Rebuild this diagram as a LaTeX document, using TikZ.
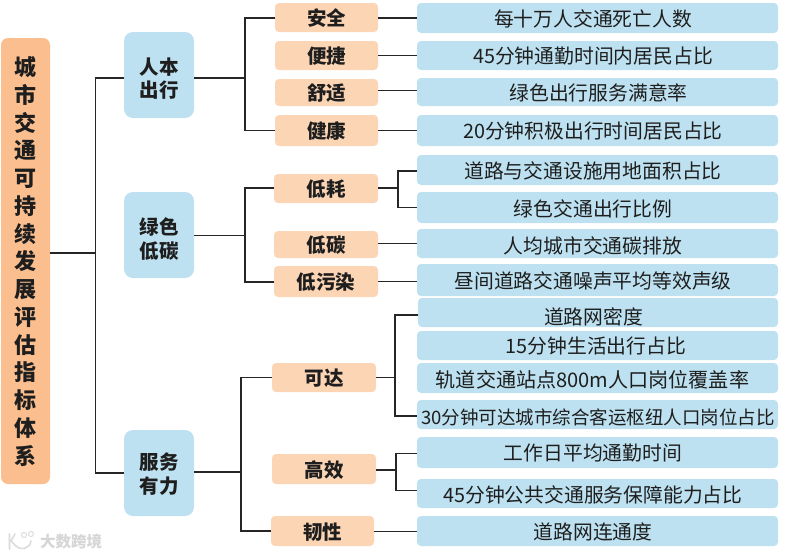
\documentclass[tikz,border=0pt]{standalone}
\usepackage{fontspec}
\setmainfont{Noto Sans CJK SC}
\definecolor{blueb}{HTML}{BDE1F0}
\definecolor{orangeb}{HTML}{FCD5B5}
\definecolor{rootb}{HTML}{FBBF8F}
\definecolor{txt}{HTML}{1E1E1E}
\tikzset{
  x=1pt,y=-1pt,
  box/.style={inner sep=0pt,outer sep=0pt,text=txt},
  l3box/.style={box,fill=blueb,rounded corners=4pt,font=\fontsize{19.8}{22}\selectfont},
  l3small/.style={l3box,font=\fontsize{18.5}{22}\selectfont},
  l3big/.style={l3box,font=\fontsize{20.1}{22}\selectfont},
  l2box/.style={box,fill=orangeb,rounded corners=4pt,font=\bfseries\fontsize{19.5}{22}\selectfont},
  l1box/.style={box,fill=blueb,rounded corners=9pt,align=center,font=\bfseries\fontsize{19.5}{23.5}\selectfont},
  rootbox/.style={box,fill=rootb,rounded corners=7pt,align=center,font=\bfseries\fontsize{22}{27.75}\selectfont},
  link/.style={draw=black!85,line width=1.2pt},
  wmark/.style={draw=black!14,line width=1.6pt,line cap=round},
}
\def\tdy{0}
\def\tdx{0}
\newcommand{\rbox}[7]{% name style x1 y1 x2 y2 text
  \node[#2,minimum width=#5pt-#3pt,minimum height=#6pt-#4pt] (#1) at ({(#3+#5)/2},{(#4+#6)/2}) {};
  \node[#2,fill=none] (#1t) at ([xshift=\tdx pt,yshift=-\tdy pt]#1.center) {#7};}
\begin{document}
\begin{tikzpicture}
\useasboundingbox (0,0) rectangle (787,557);
\def\tdy{0.5}
\rbox{root}{rootbox}{1}{38}{50}{484}{城\\市\\交\\通\\可\\持\\续\\发\\展\\评\\估\\指\\标\\体\\系}
\def\tdy{3.5}
\rbox{a}{l1box}{124}{32}{194}{118}{人本\\出行}
\def\tdy{4}
\rbox{b}{l1box}{124}{192}{194}{278}{绿色\\低碳}
\def\tdy{1}
\rbox{c}{l1box}{124}{430}{194}{516}{服务\\有力}
\def\tdy{0.8}
\rbox{a1}{l2box}{275}{3}{378}{32}{安全}
\rbox{a2}{l2box}{275}{41}{378}{70}{便捷}
\rbox{a3}{l2box}{275}{79}{378}{106}{舒适}
\rbox{a4}{l2box}{275}{115}{378}{146}{健康}
\rbox{b1}{l2box}{274}{174}{378}{203}{低耗}
\rbox{b2}{l2box}{274}{231}{378}{258}{低碳}
\rbox{b3}{l2box}{274}{266}{378}{297}{低污染}
\rbox{c1}{l2box}{272}{363}{376}{392}{可达}
\rbox{c2}{l2box}{272}{454}{376}{484}{高效}
\rbox{c3}{l2box}{271}{516}{374}{546}{韧性}
\def\tdx{-4.5}
\rbox{x1}{l3box}{417}{3}{778}{33}{每十万人交通死亡人数}
\rbox{x2}{l3box}{417}{41}{778}{70}{45分钟通勤时间内居民占比}
\def\tdx{1}
\rbox{x3}{l3box}{417}{78}{778}{106}{绿色出行服务满意率}
\def\tdx{-4.5}
\rbox{x4}{l3box}{417}{115}{778}{146}{20分钟积极出行时间居民占比}
\rbox{x5}{l3box}{417}{155}{778}{185}{道路与交通设施用地面积占比}
\def\tdy{1.5}
\rbox{x6}{l3box}{417}{192}{778}{223}{绿色交通出行比例}
\def\tdy{2}
\rbox{x7}{l3box}{417}{229}{778}{258}{人均城市交通碳排放}
\def\tdy{0.8}
\rbox{x8}{l3box}{417}{264}{778}{296}{昼间道路交通噪声平均等效声级}
\def\tdy{4}
\rbox{y1}{l3box}{418}{298}{778}{327}{道路网密度}
\def\tdy{0}\def\tdx{-1.5}
\rbox{y2}{l3box}{417}{331}{778}{360}{15分钟生活出行占比}
\def\tdy{1.5}\def\tdx{-5}
\rbox{y3}{l3big}{417}{363}{778}{393}{轨道交通站点800m人口岗位覆盖率}
\def\tdy{3}\def\tdx{0.5}
\rbox{y4}{l3small}{417}{400}{778}{429}{30分钟可达城市综合客运枢纽人口岗位占比}
\def\tdy{0.8}\def\tdx{-4.5}
\rbox{z1}{l3box}{417}{437}{778}{468}{工作日平均通勤时间}
\def\tdy{1.5}
\rbox{z2}{l3box}{417}{479}{778}{508}{45分钟公共交通服务保障能力占比}
\def\tdy{0.8}
\rbox{z3}{l3box}{417}{516}{778}{546}{道路网连通度}
\coordinate (r0) at (95.5,253);
\draw[link] (root.east|-r0) -- (r0);
\draw[link] (a.west|-0,78) -- (95.5,78) -- (95.5,473) -- (c.west|-0,473);
\draw[link] (a.east|-0,78) -- (245,78);
\draw[link] (a1.west|-0,18) -- (245,18) -- (245,130.5) -- (a4.west|-0,130.5);
\draw[link] (b.east|-0,235.5) -- (245,235.5);
\draw[link] (b1.west|-0,188) -- (245,188) -- (245,282) -- (b3.west|-0,282);
\draw[link] (c.east|-0,472) -- (241,472);
\draw[link] (c1.west|-0,377.5) -- (241,377.5) -- (241,531) -- (c3.west|-0,531);
\draw[link] (a1.east|-0,18) -- (x1.west|-0,18);
\draw[link] (a2.east|-0,55.5) -- (x2.west|-0,55.5);
\draw[link] (a3.east|-0,90.5) -- (x3.west|-0,90.5);
\draw[link] (a4.east|-0,130.5) -- (x4.west|-0,130.5);
\draw[link] (b1.east|-0,188) -- (398,188);
\draw[link] (x5.west|-0,171) -- (398,171) -- (398,207.5) -- (x6.west|-0,207.5);
\draw[link] (b2.east|-0,243.5) -- (x7.west|-0,243.5);
\draw[link] (b3.east|-0,281.5) -- (x8.west|-0,281.5);
\draw[link] (c1.east|-0,377.5) -- (395,377.5);
\draw[link] (y1.west|-0,315) -- (395,315) -- (395,416) -- (y4.west|-0,416);
\draw[link] (c2.east|-0,470) -- (396,470);
\draw[link] (z1.west|-0,453.5) -- (396,453.5) -- (396,490.5) -- (z2.west|-0,490.5);
\draw[link] (c3.east|-0,531.5) -- (z3.west|-0,531.5);
\node[font=\bfseries\fontsize{15.5}{16}\selectfont,text=black!16,inner sep=0pt] (wm) at (71,542) {大数跨境};
\draw[wmark] (9.5,534) -- (9.5,549) (15,534) -- (11,541) -- (15,545) .. controls (20,551) and (30,549) .. (31,541);
\draw[wmark,line width=1pt] (24,535) circle[radius=2.5] (31,534) circle[radius=2.5];
\end{tikzpicture}
\end{document}
